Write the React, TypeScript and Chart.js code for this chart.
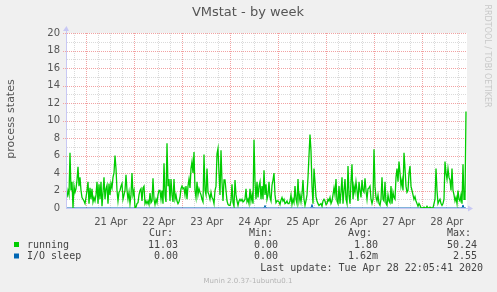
import React, { useEffect, useRef } from "react";
import { Chart, registerables } from "chart.js";

Chart.register(...registerables);

// ---- data ----
const START_HOUR = 14 + 5 / 60; // 20 Apr 14:05, left edge of plot
const STEP_H = 0.5; // one sample per 30 minutes
const RANGE_H = 200;

const dayLabels = ["21 Apr", "22 Apr", "23 Apr", "24 Apr", "25 Apr", "26 Apr", "27 Apr", "28 Apr"];
const yTickLabels = ["0", "2", "4", "6", "8", "10", "12", "14", "16", "18", "20"];

const running = [
  1.2, 2, 1.5, 6.3, 2, 3, 0, 2.5, 1.8, 2.2, 3.2, 4.7, 2.5, 3.5, 2, 1.2, 1, 0.8, 0.5, 1.2,
  2, 3, 0.5, 2.3, 1, 2.2, 0.7, 1.2, 0.8, 1.5, 3, 0.5, 2.7, 1, 3, 0.2, 1.8, 3.5, 1, 2.2,
  2.6, 0.5, 2.8, 1.5, 2.8, 2.3, 3.5, 4, 6, 4.5, 2, 0.8, 1.8, 2, 2.5, 2.8, 1, 1.5, 2, 3.8,
  2, 1, 1.8, 0.5, 1.5, 4, 1.5, 2, 0, 0.1, 0.5, 0.6, 1.5, 2, 2.2, 0.8, 2.3, 2.5, 0.5, 0.8,
  0.5, 0.8, 0.4, 1.7, 0.6, 0.8, 3.4, 1, 0.4, 1, 0.6, 1.5, 2, 2, 1, 2, 0.5, 5.1, 1.5, 0.7,
  7.4, 2.5, 3.3, 0.8, 3.3, 1.5, 0.7, 3.3, 1, 1.5, 0.8, 0.5, 0.7, 1.2, 2.2, 2.5, 2.2, 2.3, 1.5, 2.5,
  1, 2.5, 3.3, 2.3, 4.5, 5.3, 4, 6.4, 2, 1.2, 3, 1.5, 2.2, 1.8, 1.5, 1, 0.7, 6.1, 2, 1.5,
  4.5, 1.8, 1.5, 1, 1.8, 1.2, 1, 0.5, 2, 2.5, 6.2, 6.8, 4, 1.5, 6.6, 3, 0.8, 3.2, 3.2, 2,
  0.8, 0.4, 0.3, 0.3, 0.8, 2.7, 0.6, 0.2, 3.2, 1.5, 0.8, 0.3, 0.8, 1, 0.8, 1, 0.7, 0.8, 1, 2.2,
  0.7, 1, 0.5, 2.2, 0.8, 1.5, 0.5, 7.8, 3, 1, 3, 1.2, 2.5, 3, 1, 2.5, 1, 4.3, 1.5, 2.7,
  1, 1.5, 3, 1.2, 0.8, 2.6, 3.2, 4, 1.5, 0.6, 0.8, 0.8, 0.7, 0.4, 0.9, 1.2, 0.8, 1, 0.5, 0.6,
  0.8, 0.5, 0.5, 0.8, 1.5, 0.4, 1, 0.6, 2.5, 1, 0.5, 3.3, 0.8, 1.5, 0.7, 1.6, 3.2, 1, 0.3, 0.8,
  1.5, 3.5, 6, 8.4, 6.5, 2.5, 0.5, 4.5, 3, 1.3, 0.8, 0.5, 0.3, 0.4, 0.5, 0.2, 0.8, 1, 0.8, 0.4,
  0.5, 1, 0.8, 1.2, 0.5, 0.8, 1.5, 2.3, 1.5, 3.3, 0.8, 0.5, 2.5, 0.5, 1.8, 3.5, 0.5, 2, 3.3, 1,
  0.5, 4.8, 1.5, 0.5, 3, 5, 1, 2.5, 1.8, 3, 2, 0.8, 3, 2, 1.2, 3.2, 2, 1.8, 3.4, 2,
  1, 2.2, 2.3, 2.5, 1, 0.5, 1, 6.7, 2.5, 1.2, 0.8, 1.5, 0.5, 0.3, 1, 3.5, 1, 0.8, 3, 0.5,
  0.3, 1.5, 0.8, 0.6, 2.5, 0.5, 1.8, 1.2, 1, 3.5, 4.5, 3, 5.3, 4, 2.5, 3.2, 2, 6.3, 4.5, 2.5,
  1.8, 2, 4, 4.8, 2.5, 2, 1.5, 1, 1.3, 0.8, 0.5, 0.2, 0.5, 0.3, 0, 0, 0, 0.1, 0, 0,
  0.2, 0, 0, 0.1, 0, 0, 0, 0.5, 1, 4.5, 2, 0.5, 0.8, 1, 0.5, 0.3, 0.5, 1, 5.3, 4,
  3.3, 4.5, 3.5, 3.2, 2, 4.5, 2, 1.5, 0.8, 1.2, 0.5, 2, 1, 0.8, 1.5, 0.5, 5, 1, 1, 11.03,
];

const ioSleepHours = [0, 98.5, 99, 99.5, 122, 122.5, 123, 197.5, 198, 198.5, 199.5];
const ioSleepValues = [0, 0, 0.3, 0, 0, 0.4, 0, 0, 0.35, 0, 0];

const legendNames = ["running", "I/O sleep"];
const legendColors = ["#00cc00", "#0066b3"];
const curValues = ["11.03", "0.00"];
const minValues = ["0.00", "0.00"];
const avgValues = ["1.80", "1.62m"];
const maxValues = ["50.24", "2.55"];

const TITLE = "VMstat - by week";
const Y_TITLE = "process states";
const LAST_UPDATE = "Last update: Tue Apr 28 22:05:41 2020";
const FOOTER = "Munin 2.0.37-1ubuntu0.1";
const WATERMARK = "RRDTOOL / TOBI OETIKER";

const hourOfDay = (t: number) => {
  const h = (START_HOUR + t) % 24;
  return Math.round(h * 60) / 60;
};
const xTickValues: number[] = [];
for (let t = 18 - START_HOUR; t < RANGE_H; t += 6) xTickValues.push(t);

const RED = "#f2a2a2";
const GRAY = "#dadada";
const AXIS = "#c8c8f4";

const muninPlugin = {
  id: "munin",
  beforeDraw(chart: any) {
    const { ctx, chartArea: a } = chart;
    ctx.save();
    ctx.fillStyle = "#f0f0f0";
    ctx.fillRect(0, 0, chart.width, chart.height);
    ctx.fillStyle = "#ffffff";
    ctx.fillRect(a.left, a.top, a.right - a.left, a.bottom - a.top);
    ctx.restore();
  },
  beforeDatasetsDraw(chart: any) {
    const { ctx, chartArea: a, scales } = chart;
    const xs = scales.x;
    const ys = scales.y;
    const L = Math.round(a.left);
    const R = Math.round(a.right);
    const T = Math.round(a.top);
    const B = Math.round(a.bottom);
    ctx.save();
    for (const pass of [0, 1]) {
      // horizontal dotted lines
      for (let v = 1; v <= 20; v++) {
        const major = v % 2 === 0;
        if ((pass === 1) !== major) continue;
        const y = Math.round(ys.getPixelForValue(v));
        ctx.fillStyle = major ? RED : GRAY;
        for (let x = major ? L - 4 : L; x < R; x += 2) ctx.fillRect(x, y, 1, 1);
      }
      // vertical dotted lines
      for (const t of xTickValues) {
        const major = hourOfDay(t) % 24 === 0;
        if ((pass === 1) !== major) continue;
        const x = Math.floor(xs.getPixelForValue(t));
        ctx.fillStyle = major ? RED : GRAY;
        for (let y = B - 1; y >= T; y -= 2) ctx.fillRect(x, y, 1, 1);
      }
    }
    // axes
    ctx.fillStyle = AXIS;
    ctx.fillRect(L - 1, T - 4, 1, B - T + 5);
    ctx.fillRect(L - 1, B, R - L + 3, 1);
    // arrows
    ctx.beginPath();
    ctx.moveTo(L - 4, T - 2);
    ctx.lineTo(L + 2, T - 2);
    ctx.lineTo(L - 0.5, T - 7);
    ctx.closePath();
    ctx.fill();
    ctx.beginPath();
    ctx.moveTo(R + 1, B + 0.5 - 3);
    ctx.lineTo(R + 1, B + 0.5 + 3);
    ctx.lineTo(R + 6, B + 0.5);
    ctx.closePath();
    ctx.fill();
    ctx.restore();
  },
  afterDraw(chart: any) {
    const { ctx } = chart;
    ctx.save();
    // title
    ctx.fillStyle = "#555555";
    ctx.font = "13px 'DejaVu Sans'";
    ctx.textAlign = "center";
    ctx.textBaseline = "middle";
    ctx.fillText(TITLE, 248, 13);
    // y title
    ctx.save();
    ctx.translate(11, 119);
    ctx.rotate(-Math.PI / 2);
    ctx.font = "11px 'DejaVu Sans'";
    ctx.fillText(Y_TITLE, 0, 0);
    ctx.restore();
    // watermark
    ctx.save();
    ctx.translate(487, 56);
    ctx.rotate(Math.PI / 2);
    ctx.fillStyle = "#c8c8c8";
    ctx.font = "8px 'DejaVu Sans'";
    ctx.fillText(WATERMARK, 0, 0);
    ctx.restore();
    // legend
    ctx.font = "10px 'DejaVu Sans Mono'";
    ctx.fillStyle = "#444444";
    ctx.textAlign = "left";
    ctx.fillText("Cur:", 149, 233);
    ctx.fillText("Min:", 249, 233);
    ctx.fillText("Avg:", 348, 233);
    ctx.fillText("Max:", 447, 233);
    const rows = [245, 256.5];
    legendNames.forEach((name, i) => {
      const y = rows[i];
      ctx.fillStyle = legendColors[i];
      ctx.fillRect(14, y - 3, 5, 5);
      ctx.fillStyle = "#444444";
      ctx.textAlign = "left";
      ctx.fillText(name, 27, y);
      ctx.textAlign = "right";
      ctx.fillText(curValues[i], 178, y);
      ctx.fillText(minValues[i], 278, y);
      ctx.fillText(avgValues[i], 378, y);
      ctx.fillText(maxValues[i], 477, y);
    });
    ctx.textAlign = "right";
    ctx.fillText(LAST_UPDATE, 483, 268.5);
    ctx.textAlign = "center";
    ctx.fillStyle = "#b4b4b4";
    ctx.font = "7px 'DejaVu Sans'";
    ctx.fillText(FOOTER, 248, 281.5);
    ctx.restore();
  },
};

export default function App() {
  const ref = useRef<HTMLCanvasElement | null>(null);
  useEffect(() => {
    document.body.style.margin = "0";
    if (!ref.current) return;
    const runningPts = running.map((v, i) => ({ x: i * STEP_H, y: v }));
    const ioPts = ioSleepHours.map((h, i) => ({ x: h, y: ioSleepValues[i] }));
    const chart = new Chart(ref.current, {
      type: "line",
      data: {
        datasets: [
          {
            label: legendNames[0],
            data: runningPts,
            borderColor: legendColors[0],
            borderWidth: 1.3,
            pointRadius: 0,
            tension: 0,
            fill: false,
          },
          {
            label: legendNames[1],
            data: ioPts,
            borderColor: legendColors[1],
            borderWidth: 1,
            pointRadius: 0,
            tension: 0,
            fill: false,
          },
        ],
      },
      options: {
        animation: false,
        responsive: false,
        devicePixelRatio: 1,
        layout: { padding: { left: 0, top: 33, right: 30, bottom: 0 }, autoPadding: false },
        plugins: { legend: { display: false }, tooltip: { enabled: false }, title: { display: false } },
        scales: {
          x: {
            type: "linear",
            min: 0,
            max: RANGE_H,
            afterFit: (s: any) => {
              s.height = 84;
            },
            afterBuildTicks: (s: any) => {
              s.ticks = xTickValues.map((v) => ({ value: v }));
            },
            border: { display: false },
            grid: { display: false, drawTicks: false },
            ticks: {
              autoSkip: false,
              maxRotation: 0,
              padding: 8,
              color: "#555555",
              font: { family: "DejaVu Sans", size: 10 },
              callback: (v: any) => {
                const value = Number(v);
                if (hourOfDay(value) !== 12) return "";
                const idx = Math.round((value + START_HOUR - 12 - 24) / 24);
                return dayLabels[idx] ?? "";
              },
            },
          },
          y: {
            type: "linear",
            min: 0,
            max: 20,
            afterFit: (s: any) => {
              s.width = 67;
            },
            afterBuildTicks: (s: any) => {
              const t = [];
              for (let i = 0; i <= 20; i++) t.push({ value: i });
              s.ticks = t;
            },
            border: { display: false },
            grid: { display: false, drawTicks: false },
            ticks: {
              padding: 7,
              color: "#555555",
              font: { family: "DejaVu Sans", size: 10 },
              callback: (v: any) => {
                const n = Number(v);
                return n % 2 === 0 ? yTickLabels[n / 2] : "";
              },
            },
          },
        },
      },
      plugins: [muninPlugin],
    });
    return () => chart.destroy();
  }, []);
  return (
    <div style={{ width: 497, height: 292 }}>
      <canvas ref={ref} width={497} height={292} />
    </div>
  );
}
